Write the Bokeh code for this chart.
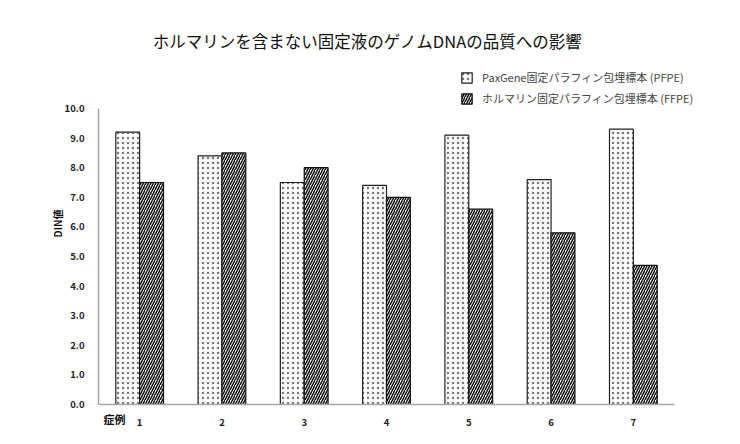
import math
from bokeh.plotting import figure
from bokeh.models import ColumnDataSource, Range1d, Legend, LegendItem, Label, FixedTicker
from bokeh.transform import dodge
from bokeh.embed import file_html
from bokeh.resources import INLINE

cases = [1, 2, 3, 4, 5, 6, 7]
case_labels = ["1", "2", "3", "4", "5", "6", "7"]
pfpe = [9.2, 8.4, 7.5, 7.4, 9.1, 7.6, 9.3]
ffpe = [7.5, 8.5, 8.0, 7.0, 6.6, 5.8, 4.7]
y_ticks = [0, 1, 2, 3, 4, 5, 6, 7, 8, 9, 10]
title_text = "ホルマリンを含まない固定液のゲノムDNAの品質への影響"
name_pfpe = "PaxGene固定パラフィン包埋標本 (PFPE)"
name_ffpe = "ホルマリン固定パラフィン包埋標本 (FFPE)"
x_title = "症例"
y_title = "DIN値"

FONT = "Noto Sans CJK JP"
W, H = 724, 428

src = ColumnDataSource(dict(case=cases, pfpe=pfpe, ffpe=ffpe))

# frame covers the whole canvas; ranges chosen so that plot area sits at
# x: 98..674 px (cases 0.5..7.5) and y: 404..108 px (0..10)
xpx = (674 - 98) / 7.0
ypx = (404 - 108) / 10.0
x_range = Range1d(0.5 - 98 / xpx, 7.5 + (W - 674) / xpx)
y_range = Range1d(-(H - 404) / ypx, 404 / ypx)

p = figure(width=W, height=H, x_range=x_range, y_range=y_range,
           output_backend="svg", toolbar_location=None,
           min_border_left=0, min_border_right=0, min_border_top=0, min_border_bottom=0)

r1 = p.vbar(x=dodge("case", -0.145), top="pfpe", width=0.29, source=src,
            fill_color="white", line_color="#222222", line_width=1.2,
            hatch_pattern="dot", hatch_scale=5, hatch_weight=1.0, hatch_color="#777777")
r2 = p.vbar(x=dodge("case", 0.145), top="ffpe", width=0.29, source=src,
            fill_color="white", line_color="#111111", line_width=1.2,
            hatch_pattern="right_diagonal_line", hatch_scale=5, hatch_weight=1.5, hatch_color="#111111")

p.xgrid.visible = False
p.ygrid.visible = False
p.outline_line_color = None
p.background_fill_color = "white"

p.xaxis.fixed_location = 0
p.xaxis.bounds = (0.5, 7.5)
p.xaxis.ticker = FixedTicker(ticks=cases)
p.xaxis.major_label_overrides = dict(zip(cases, case_labels))
p.yaxis.fixed_location = 0.5
p.yaxis.bounds = (0, 10)
p.yaxis.ticker = FixedTicker(ticks=y_ticks)
p.yaxis.major_label_overrides = {t: f"{t:.1f}" for t in y_ticks}
for ax in (p.xaxis, p.yaxis):
    ax.axis_line_color = "#a6a6a6"
    ax.axis_line_width = 1.5
    ax.major_tick_line_color = None
    ax.minor_tick_line_color = None
    ax.major_label_text_font = FONT
    ax.major_label_text_font_size = "9.5px"
    ax.major_label_text_font_style = "bold"
    ax.major_label_text_color = "#222222"
    ax.major_label_standoff = 8

def screen_label(text, x, y, size, style="normal", angle=0.0, align="center"):
    return Label(x=x, y=H - y, x_units="screen", y_units="screen", text=text, angle=angle,
                 text_font=FONT, text_font_size=size, text_font_style=style,
                 text_align=align, text_baseline="middle", text_color="#111111")

p.add_layout(screen_label(title_text, 367, 40, "16.5px"))
p.add_layout(screen_label(y_title, 57, 223, "10px", "bold", angle=math.pi / 2))
p.add_layout(screen_label(x_title, 114, 418, "11px", "bold"))

legend = Legend(items=[LegendItem(label=name_pfpe, renderers=[r1]),
                       LegendItem(label=name_ffpe, renderers=[r2])],
                location=(460, H - 106), border_line_color=None, background_fill_alpha=0,
                glyph_width=13, glyph_height=13, label_standoff=9, spacing=5,
                label_text_font=FONT, label_text_font_size="11px", padding=3, margin=0)
p.add_layout(legend, "center")

open("out.html", "w").write(file_html(p, INLINE))
